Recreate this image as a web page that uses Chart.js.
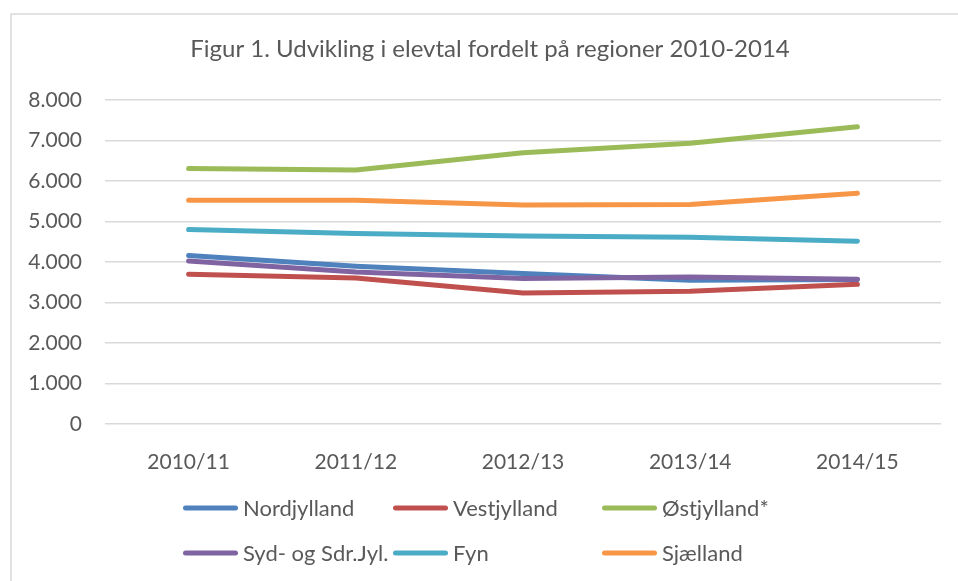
<!DOCTYPE html>
<html>
<head>
<meta charset="utf-8">
<script src="https://cdn.jsdelivr.net/npm/chart.js@4"></script>
<style>
  body { margin: 0; background: #fff; }
  #wrap { position: relative; width: 958px; height: 581px; }
</style>
</head>
<body>
<div id="wrap"><canvas id="elevChart"></canvas></div>
<script>
const labels = ["2010/11", "2011/12", "2012/13", "2013/14", "2014/15"];
const regions = ["Nordjylland", "Vestjylland", "Østjylland*", "Syd- og Sdr.Jyl.", "Fyn", "Sjælland"];
const nordjylland = [4160, 3895, 3715, 3550, 3565];
const vestjylland = [3700, 3605, 3235, 3275, 3450];
const ostjylland = [6310, 6270, 6695, 6930, 7340];
const sydjylland = [4025, 3755, 3590, 3630, 3575];
const fyn = [4800, 4705, 4645, 4610, 4515];
const sjaelland = [5525, 5525, 5405, 5420, 5700];
const colors = ["#4f81bd", "#c0504d", "#9bbb59", "#8064a2", "#4bacc6", "#f79646"];
const titleText = "Figur 1. Udvikling i elevtal fordelt på regioner 2010-2014";

const series = [nordjylland, vestjylland, ostjylland, sydjylland, fyn, sjaelland];
const textColor = "#595959";
const fontFamily = "Lato, 'Open Sans', sans-serif";

function fmt(v) {
  return String(v).replace(/\B(?=(\d{3})+(?!\d))/g, ".");
}

// frame + title, like the Excel chart
const framePlugin = {
  id: "frame",
  beforeDraw(chart) {
    const ctx = chart.ctx;
    ctx.save();
    ctx.strokeStyle = "#d9d9d9";
    ctx.lineWidth = 1.5;
    ctx.strokeRect(11, 14, 1000, 1000);
    ctx.font = "24px " + fontFamily;
    ctx.fillStyle = textColor;
    ctx.textAlign = "center";
    ctx.textBaseline = "middle";
    ctx.fillText(titleText, 490, 49);
    ctx.restore();
  }
};

// legend in a 3 x 2 grid
const gridLegend = {
  id: "gridLegend",
  afterDraw(chart) {
    const ctx = chart.ctx;
    const cols = [183, 393, 602];
    const rows = [508, 553];
    ctx.save();
    ctx.font = "22px " + fontFamily;
    ctx.textBaseline = "middle";
    ctx.fillStyle = textColor;
    chart.data.datasets.forEach((ds, i) => {
      const x = cols[i % 3];
      const y = rows[Math.floor(i / 3)];
      ctx.strokeStyle = ds.borderColor;
      ctx.lineWidth = 5;
      ctx.lineCap = "round";
      ctx.beginPath();
      ctx.moveTo(x + 2.5, y);
      ctx.lineTo(x + 52.5, y);
      ctx.stroke();
      ctx.fillText(ds.label, x + 60, y + 1);
    });
    ctx.restore();
  }
};

new Chart(document.getElementById("elevChart"), {
  type: "line",
  data: {
    labels: labels,
    datasets: series.map((d, i) => ({
      label: regions[i],
      data: d,
      borderColor: colors[i],
      backgroundColor: colors[i],
      borderWidth: 5,
      borderCapStyle: "round",
      borderJoinStyle: "round",
      pointRadius: 0,
      tension: 0,
      order: series.length - i
    }))
  },
  options: {
    responsive: true,
    maintainAspectRatio: false,
    animation: false,
    layout: { padding: { top: 100, left: 11, right: 17, bottom: 0 } },
    plugins: {
      legend: { display: false },
      tooltip: { enabled: false },
      title: { display: false }
    },
    scales: {
      x: {
        offset: true,
        grid: { display: false },
        border: { display: false },
        ticks: {
          color: textColor,
          font: { family: fontFamily, size: 21 },
          padding: 18,
          maxRotation: 0
        },
        afterFit(scale) { scale.height = 157; }
      },
      y: {
        min: 0,
        max: 8000,
        grid: { color: "#d9d9d9", lineWidth: 1.5, drawTicks: false },
        border: { display: false },
        ticks: {
          stepSize: 1000,
          color: textColor,
          font: { family: fontFamily, size: 21 },
          padding: 23,
          callback: v => fmt(v)
        },
        afterFit(scale) { scale.width = 94; }
      }
    }
  },
  plugins: [framePlugin, gridLegend]
});
</script>
</body>
</html>
